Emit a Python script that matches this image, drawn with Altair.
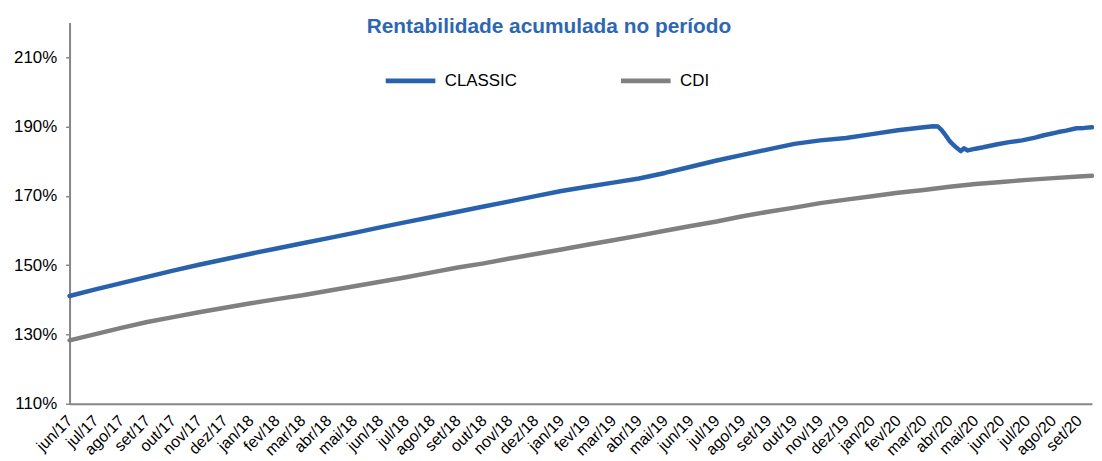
import altair as alt
import pandas as pd

MONTHS = ["jun/17", "jul/17", "ago/17", "set/17", "out/17", "nov/17", "dez/17",
          "jan/18", "fev/18", "mar/18", "abr/18", "mai/18", "jun/18", "jul/18",
          "ago/18", "set/18", "out/18", "nov/18", "dez/18",
          "jan/19", "fev/19", "mar/19", "abr/19", "mai/19", "jun/19", "jul/19",
          "ago/19", "set/19", "out/19", "nov/19", "dez/19",
          "jan/20", "fev/20", "mar/20", "abr/20", "mai/20", "jun/20", "jul/20",
          "ago/20", "set/20"]

# position along the month axis (0 = jun/17) and value in %
CLASSIC_M = list(range(34)) + [33.36, 33.55, 33.7, 33.85, 34.0, 34.2, 34.43, 34.55,
                                34.7, 35.0, 35.3, 35.8, 36.3, 36.8, 37.3, 37.6,
                                38.2, 38.5, 38.9, 39.2, 39.5]
CLASSIC_V = [141.1, 143.0, 144.8, 146.6, 148.4, 150.1, 151.7, 153.3, 154.8, 156.3,
             157.8, 159.3, 160.9, 162.4, 163.9, 165.4, 166.9, 168.4, 169.9, 171.4,
             172.6, 173.8, 175.0, 176.6, 178.4, 180.2, 181.8, 183.4, 185.0, 186.0,
             186.7, 187.8, 188.9, 189.8,
             190.1, 190.0, 188.9, 187.4, 185.8, 184.3, 182.9, 183.7,
             183.1, 183.6, 184.0, 184.8, 185.5, 186.0, 186.8, 187.4,
             188.4, 188.8, 189.5, 189.6, 189.8]

CDI_M = list(range(40)) + [39.5]
CDI_V = [128.3, 130.1, 131.9, 133.6, 135.0, 136.4, 137.7, 139.0, 140.2, 141.3,
         142.6, 143.9, 145.2, 146.5, 147.9, 149.3, 150.5, 151.9, 153.2, 154.5,
         155.9, 157.2, 158.5, 159.9, 161.3, 162.6, 164.1, 165.4, 166.6, 167.9,
         168.9, 169.9, 170.9, 171.7, 172.6, 173.4, 174.0, 174.6, 175.1, 175.6,
         175.8]

SERIES = ["CLASSIC", "CDI"]
BLUE = "#2962AC"
GRAY = "#808080"
FONT = "Liberation Sans"

rows = [{"m": m, "v": v, "serie": "CLASSIC"} for m, v in zip(CLASSIC_M, CLASSIC_V)]
rows += [{"m": m, "v": v, "serie": "CDI"} for m, v in zip(CDI_M, CDI_V)]
df = pd.DataFrame(rows)

label_expr = "[" + ",".join("'%s'" % s for s in MONTHS) + "][datum.value]"

chart = alt.Chart(df).mark_line(strokeWidth=4.5, strokeJoin="round", strokeCap="round").encode(
    x=alt.X("m:Q",
            scale=alt.Scale(domain=[0, 39.5], nice=False, zero=False),
            axis=alt.Axis(values=list(range(len(MONTHS))), labelExpr=label_expr, title=None,
                          grid=False, ticks=False, labelAngle=-45, labelAlign="right",
                          labelBaseline="middle", labelFontSize=16, labelOverlap=False,
                          labelPadding=14, domainColor="#868686", domainWidth=2,
                          labelColor="#000000", labelFont=FONT)),
    y=alt.Y("v:Q",
            scale=alt.Scale(domain=[110, 220], nice=False, zero=False),
            axis=alt.Axis(values=[110, 130, 150, 170, 190, 210], labelExpr="datum.value + '%'",
                          title=None, grid=False, tickSize=4, tickColor="#868686", tickWidth=1.5,
                          labelPadding=9, labelFontSize=17, domainColor="#868686", domainWidth=2,
                          labelColor="#000000", labelFont=FONT)),
    color=alt.Color("serie:N",
                    scale=alt.Scale(domain=SERIES, range=[BLUE, GRAY]),
                    sort=SERIES,
                    legend=alt.Legend(title=None, orient="none", legendX=316, legendY=31,
                                      direction="horizontal", symbolType="stroke",
                                      symbolSize=2500, symbolStrokeWidth=5, labelFontSize=17,
                                      labelOffset=7, columnPadding=94, padding=0,
                                      labelColor="#000000", labelFont=FONT)),
).properties(
    width=1030,
    height=384,
    autosize=alt.AutoSizeParams(type="none"),
    padding={"left": 62, "top": 13, "right": 2, "bottom": 53},
    title=alt.TitleParams(text="Rentabilidade acumulada no período", fontSize=21, font=FONT,
                          fontWeight="bold", color="#2E67B1", anchor="middle",
                          baseline="alphabetic", offset=-20, dx=-32, dy=12),
).configure_view(stroke=None)

chart.save("out.html", embed_options={"renderer": "svg", "actions": False})
